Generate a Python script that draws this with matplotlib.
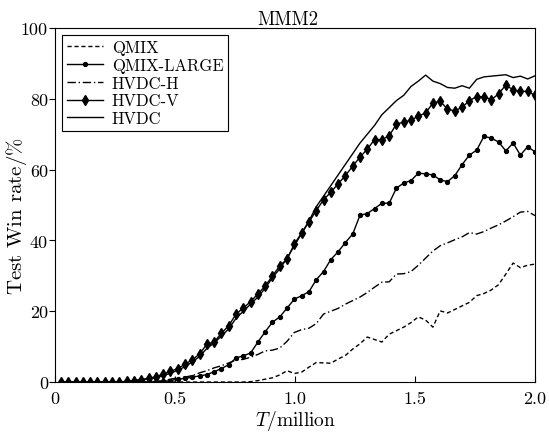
import numpy as np
import matplotlib
matplotlib.use("Agg")
import matplotlib.pyplot as plt

plt.rcParams['font.family'] = 'serif'
plt.rcParams['font.serif'] = ['cmr10', 'DejaVu Serif']
plt.rcParams['mathtext.fontset'] = 'cm'
plt.rcParams['axes.unicode_minus'] = False
plt.rcParams['axes.formatter.use_mathtext'] = True

# training steps (million), one sample per evaluation
steps = np.linspace(0.025, 2.0, 66)

qmix = [0, 0, 0, 0, 0, 0, 0, 0, 0, 0,
        0, 0, 0, 0, 0, 0, 0, 0, 0, 0,
        0, 0, 0, 0, 0, 0, 0.1, 0.4, 0.8, 1.2,
        2.0, 3.2, 2.4, 2.8, 4.2, 5.5, 5.4, 5.3, 6.5, 7.5,
        9.3, 10.8, 12.7, 12.0, 11.3, 13.5, 14.5, 15.5, 16.8, 18.4,
        17.5, 15.5, 20.1, 19.5, 20.5, 21.5, 22.5, 24.4, 25.0, 26.0,
        27.5, 30.5, 33.6, 32.3, 33.0, 33.3]

qmix_large = [0, 0, 0, 0, 0, 0, 0, 0, 0, 0,
              0, 0, 0, 0, 0.2, 0.4, 0.8, 1.0, 1.4, 1.7,
              2.1, 2.9, 3.8, 4.9, 6.8, 7.4, 8.2, 11.3, 14.2, 16.9,
              18.4, 20.9, 23.4, 24.4, 25.5, 28.9, 31.2, 34.6, 36.8, 39.4,
              41.8, 47.1, 47.6, 49.0, 50.5, 50.5, 54.8, 56.2, 56.9, 59.0,
              58.8, 58.5, 57.1, 56.6, 58.3, 61.4, 64.1, 65.5, 69.4, 68.9,
              67.8, 65.3, 67.5, 64.1, 66.5, 65.0]

hvdc_h = [0, 0, 0, 0, 0, 0, 0, 0, 0, 0,
          0, 0, 0, 0.2, 0.4, 0.8, 1.2, 1.4, 1.8, 2.6,
          3.2, 4.0, 4.6, 5.4, 6.2, 6.4, 7.0, 7.8, 8.8, 9.0,
          9.6, 11.5, 14.0, 14.8, 15.2, 16.5, 19.2, 20.0, 20.8, 22.0,
          23.0, 24.0, 25.3, 26.8, 28.2, 28.3, 30.5, 30.6, 31.2, 33.0,
          35.0, 37.0, 38.5, 39.3, 40.2, 41.0, 42.2, 41.8, 42.5, 43.5,
          44.4, 45.5, 46.7, 48.0, 48.2, 47.0]

hvdc_v = [0, 0, 0, 0, 0, 0, 0, 0, 0, 0.2,
          0.4, 0.7, 1.0, 1.5, 2.2, 3.0, 3.8, 5.0, 6.3, 7.9,
          10.7, 11.3, 13.8, 15.9, 19.2, 20.9, 22.7, 24.9, 27.1, 30.0,
          32.8, 34.7, 39.0, 42.1, 45.2, 48.4, 51.5, 53.6, 56.0, 58.3,
          61.0, 63.5, 65.8, 68.5, 68.5, 69.5, 72.9, 73.4, 74.0, 75.1,
          76.0, 78.8, 79.3, 77.1, 76.6, 77.6, 79.5, 80.6, 80.6, 79.7,
          81.4, 83.9, 82.5, 82.1, 82.1, 81.0]

hvdc = [0, 0, 0, 0, 0, 0, 0, 0, 0, 0.2,
        0.4, 0.6, 0.9, 1.2, 1.8, 2.5, 3.3, 4.3, 5.7, 7.2,
        9.5, 11.0, 13.0, 15.0, 18.0, 20.0, 22.0, 24.0, 26.5, 29.5,
        32.0, 35.0, 38.5, 42.0, 45.5, 49.5, 52.5, 55.5, 58.5, 61.5,
        64.5, 67.5, 70.0, 72.5, 75.5, 77.5, 79.5, 81.0, 83.5, 85.0,
        86.7, 85.0, 84.3, 83.2, 83.0, 83.7, 83.0, 85.5, 86.2, 86.4,
        86.6, 86.8, 86.0, 86.4, 85.6, 86.5]

fig = plt.figure(figsize=(5.49, 4.35), dpi=100)
ax = fig.add_axes([0.1002, 0.1195, 0.8743, 0.8138])

ax.plot(steps, qmix, color='k', linewidth=1, dashes=(3, 2), label='QMIX')
ax.plot(steps, qmix_large, color='k', linewidth=1, marker='o', markersize=2.8,
        label='QMIX-LARGE')
ax.plot(steps, hvdc_h, color='k', linewidth=1, dashes=(6, 2, 1, 2),
        label='HVDC-H')
ax.plot(steps, hvdc_v, color='k', linewidth=1, marker='d', markersize=5.5,
        label='HVDC-V')
ax.plot(steps, hvdc, color='k', linewidth=1, label='HVDC')

ax.set_xlim(0, 2.0)
ax.set_ylim(0, 100)
ax.set_xticks([0, 0.5, 1.0, 1.5, 2.0])
ax.set_xticklabels(['0', '0.5', '1.0', '1.5', '2.0'])
ax.set_yticks([0, 20, 40, 60, 80, 100])
ax.set_yticklabels(['0', '20', '40', '60', '80', '100'])
ax.tick_params(axis='x', direction='in', length=4, labelsize=13, pad=6)
ax.tick_params(axis='y', direction='out', length=4, labelsize=13, pad=1)

ax.set_xlabel('$T$/million', fontsize=14, labelpad=2)
ax.set_ylabel(r'Test Win rate/$\%$', fontsize=15)
ax.yaxis.set_label_coords(-0.054, 0.47)
ax.set_title('MMM2', fontsize=13.5, pad=3, x=0.485)

leg = ax.legend(loc='upper left', fontsize=12, fancybox=False, framealpha=1,
                edgecolor='k', handlelength=2.2, borderaxespad=0.4,
                labelspacing=0.15, borderpad=0.3, handletextpad=0.5)
leg.get_frame().set_linewidth(0.8)

fig.savefig('out.png', dpi=100)
